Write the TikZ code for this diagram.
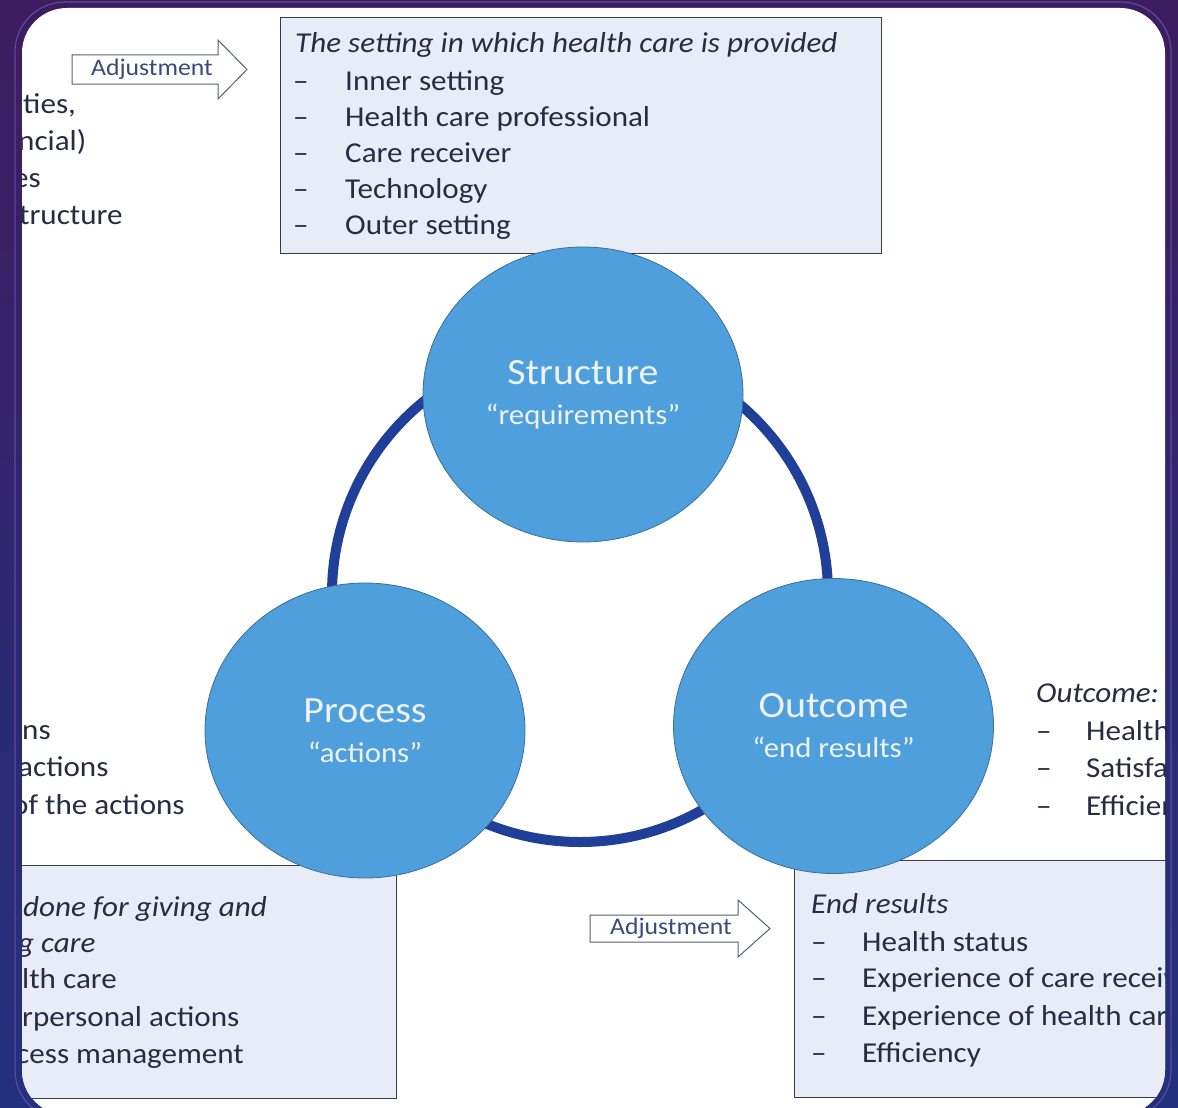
\documentclass[tikz,border=0pt]{standalone}
\usepackage{fontspec}
\setmainfont{Carlito}[FakeStretch=1.08]
\usetikzlibrary{shapes.geometric}

\definecolor{frameTop}{HTML}{3E1C60}
\definecolor{frameMid}{HTML}{2F2470}
\definecolor{frameBot}{HTML}{22307E}
\definecolor{frameGlow}{HTML}{5A4C98}
\definecolor{boxFill}{HTML}{E8ECF6}
\definecolor{boxLine}{HTML}{3A3C4A}
\definecolor{bubbleFill}{HTML}{4E9FDC}
\definecolor{bubbleLine}{HTML}{3A6E9E}
\definecolor{ringBlue}{HTML}{1F3F99}
\definecolor{inkText}{HTML}{272C42}
\definecolor{arrowInk}{HTML}{3B4A7A}
\definecolor{arrowLine}{HTML}{5A6072}
\definecolor{bubbleText}{HTML}{EEF3FA}

\newcommand\bodysize{\fontsize{28.8}{34}\selectfont}
\newcommand\adjsize{\fontsize{23.8}{28}\selectfont}

\tikzset{
  bubble/.style={ellipse, draw=bubbleLine, line width=0.8pt, fill=bubbleFill,
    minimum width=320pt, minimum height=295pt, inner sep=0pt,
    text=bubbleText, align=center, font=\fontsize{28.5}{40}\selectfont},
  infobox/.style={draw=boxLine, fill=boxFill, line width=1.2pt,
    anchor=north west, inner sep=0pt},
  txt/.style={anchor=base west, inner sep=0pt, text=inkText, font=\bodysize},
  itxt/.style={txt, font=\bodysize\itshape},
  adjtext/.style={inner sep=0pt, text=arrowInk, font=\adjsize},
  blockarrow/.style={draw=arrowLine, fill=white, line width=1pt, line join=miter},
}

\newcommand\bigword[1]{{\fontsize{37}{40}\selectfont #1}}

\begin{document}
\begin{tikzpicture}[x=1pt,y=-1pt]
\useasboundingbox (0,0) rectangle (1178,1108);

% dark frame behind the card
\shade[top color=frameTop, middle color=frameMid, bottom color=frameBot]
  (0,0) rectangle (1178,1108);
\draw[frameGlow, line width=1.2pt, rounded corners=50]
  (15,2) rectangle (1171,1120);

% white card
\fill[white, rounded corners=45] (22,8) rectangle (1165,1115);

\begin{scope}
\clip[rounded corners=45] (22,8) rectangle (1165,1115);

% ---- structure description box
\node[infobox, minimum width=601pt, minimum height=236pt] (setbox) at (280,17) {};
\node[itxt] (s0) at (295,53) {The setting in which health care is provided};
\node[txt] (d1) at (293,90) {--};
\node[txt] (s1) at (345,90) {Inner setting};
\node[txt] (d2) at (293,126) {--};
\node[txt] (s2) at (345,126) {Health care professional};
\node[txt] (d3) at (293,162) {--};
\node[txt] (s3) at (345,162) {Care receiver};
\node[txt] (d4) at (293,198) {--};
\node[txt] (s4) at (345,198) {Technology};
\node[txt] (d5) at (293,234) {--};
\node[txt] (s5) at (345,234) {Outer setting};

% ---- text running in from the left, upper part
\node[txt] (l1) at (23,113) {ties,};
\node[txt] (l2) at (18,150) {ncial)};
\node[txt] (l3) at (13,187) {es};
\node[txt] (l4) at (19,224) {tructure};

% ---- text running in from the left, middle part
\node[txt] (m1) at (22,739) {ns};
\node[txt] (m2) at (18,776) {actions};
\node[txt] (m3) at (12,814) {of the actions};

% ---- process description box
\node[infobox, minimum width=420pt, minimum height=233pt] (procbox) at (-24,865) {};
\node[itxt] (p0) at (23,916) {done for giving and};
\node[itxt] (p1) at (18,952) {g care};
\node[txt] (p2) at (22,988) {lth care};
\node[txt] (p3) at (22,1026) {rpersonal actions};
\node[txt] (p4) at (16,1063) {cess management};

% ---- outcome list on the right
\node[itxt] (o0) at (1036,702) {Outcome:};
\node[txt] (od1) at (1036,740) {--};
\node[txt] (o1) at (1086,740) {Health};
\node[txt] (od2) at (1036,777) {--};
\node[txt] (o2) at (1086,777) {Satisfaction};
\node[txt] (od3) at (1036,815) {--};
\node[txt] (o3) at (1086,815) {Efficiency};

% ---- end results box
\node[infobox, minimum width=420pt, minimum height=237pt] (endbox) at (794,860) {};
\node[itxt] (e0) at (811,913) {End results};
\node[txt] (ed1) at (811,951) {--};
\node[txt] (e1) at (862,951) {Health status};
\node[txt] (ed2) at (811,987) {--};
\node[txt] (e2) at (862,987) {Experience of care receiver};
\node[txt] (ed3) at (811,1025) {--};
\node[txt] (e3) at (862,1025) {Experience of health care professional};
\node[txt] (ed4) at (811,1062) {--};
\node[txt] (e4) at (862,1062) {Efficiency};

% ---- adjustment arrows
\draw[blockarrow] (72,55) -- (218,55) -- (218,40) -- (247,69.5)
  -- (218,99) -- (218,84) -- (72,84) -- cycle;
\node[adjtext] (adjtop) at (152,69) {Adjustment};
\draw[blockarrow] (590,915) -- (738,915) -- (738,900) -- (770,928.5)
  -- (738,957) -- (738,942) -- (590,942) -- cycle;
\node[adjtext] (adjbot) at (671,928) {Adjustment};

% ---- cycle ring
\coordinate (ringc) at (580,594);
\draw[ringBlue, line width=10pt] (ringc) circle[radius=248];

% ---- the three components
\node[bubble] (structure) at (583,394.5) {\bigword{Structure}\\“requirements”};
\node[bubble] (process) at (365,730.5) {\bigword{Process}\\“actions”};
\node[bubble] (outcome) at (833.5,726) {\bigword{Outcome}\\“end results”};
\end{scope}
\end{tikzpicture}
\end{document}
